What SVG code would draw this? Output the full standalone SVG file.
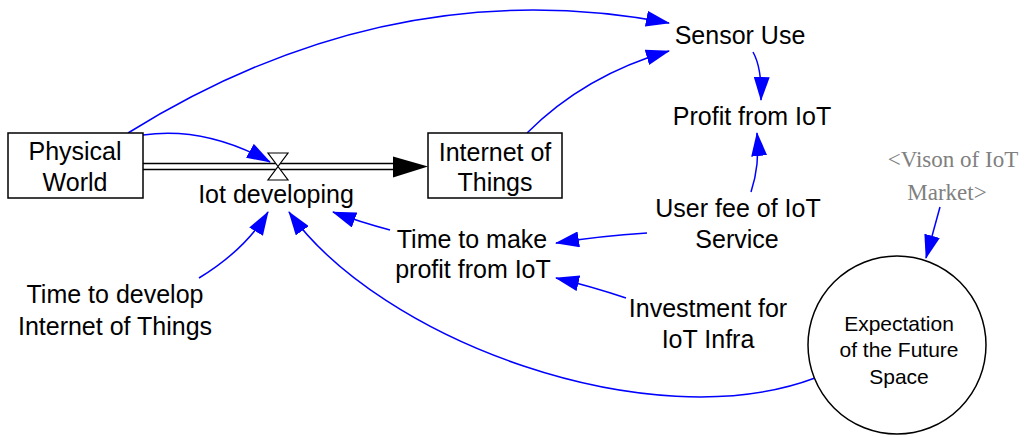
<svg xmlns="http://www.w3.org/2000/svg" width="1026" height="437" viewBox="0 0 1026 437">
<style>
text{font-family:"Liberation Sans",Arial,sans-serif;font-size:25px;fill:#000;text-anchor:middle}
.small{font-size:21px}
.ghost{font-family:"Liberation Serif","Times New Roman",serif;font-size:23px;fill:#808080}
.box{fill:#fff;stroke:#000;stroke-width:1.5}
.link{fill:none;stroke:#0000ff;stroke-width:1.5;marker-end:url(#ah)}
.pipe{fill:none;stroke:#000;stroke-width:1.5}
</style>
<defs>
<marker id="ah" markerUnits="userSpaceOnUse" markerWidth="24" markerHeight="16" viewBox="0 0 24 16" refX="23" refY="8" orient="auto">
<path d="M0,0 L24,8 L0,16 z" fill="#0000ff"/>
</marker>
</defs>
<g id="connectors">
<path class="link" d="M128,133 Q390,-30 669,23"/>
<path class="link" d="M527,133 Q585,75 669,51"/>
<path class="link" d="M753,52 Q762,68 761,100"/>
<path class="link" d="M751,192 Q760,165 757,133"/>
<path class="link" d="M647,233 Q600,236 556,243"/>
<path class="link" d="M626,298 Q590,286 556,278"/>
<path class="link" d="M390,230 Q360,222 333,212"/>
<path class="link" d="M199,278 Q245,250 268,212"/>
<path class="link" d="M815,378 C650,440 380,340 289,212"/>
<path class="link" d="M940,207 L926,258"/>
<path class="link" d="M143,135 Q205,126 270,162"/>
</g>
<g id="flow-iot-developing">
<line class="pipe" x1="143" y1="163.5" x2="395" y2="163.5"/>
<line class="pipe" x1="143" y1="169.5" x2="395" y2="169.5"/>
<path d="M393,156.5 L428,166.5 L393,177.5 z" fill="#000"/>
<path d="M268,153 L288,153 L278,166.5 L288,180 L268,180 L278,166.5 z" fill="#fff" stroke="#000" stroke-width="1.2"/>
<text x="276" y="203">Iot developing</text>
</g>
<g id="physical-world">
<rect class="box" x="8" y="133" width="135" height="65"/>
<text x="75" y="160">Physical</text>
<text x="75" y="191">World</text>
</g>
<g id="internet-of-things">
<rect class="box" x="428" y="133" width="134" height="65"/>
<text x="495" y="161">Internet of</text>
<text x="495" y="191">Things</text>
</g>
<g id="sensor-use"><text x="740" y="44">Sensor Use</text></g>
<g id="profit-from-iot"><text x="752" y="125">Profit from IoT</text></g>
<g id="vison-of-iot-market">
<text class="ghost" x="953" y="167">&lt;Vison of IoT</text>
<text class="ghost" x="947" y="200">Market&gt;</text>
</g>
<g id="user-fee">
<text x="738" y="217">User fee of IoT</text>
<text x="737" y="248">Service</text>
</g>
<g id="time-to-make-profit">
<text x="472" y="248">Time to make</text>
<text x="473" y="278">profit from IoT</text>
</g>
<g id="time-to-develop">
<text x="115" y="303">Time to develop</text>
<text x="115" y="335">Internet of Things</text>
</g>
<g id="investment">
<text x="708" y="317">Investment for</text>
<text x="708" y="348">IoT Infra</text>
</g>
<g id="expectation">
<circle class="box" cx="897" cy="345" r="89"/>
<text class="small" x="899" y="331">Expectation</text>
<text class="small" x="899" y="357">of the Future</text>
<text class="small" x="899" y="384">Space</text>
</g>
</svg>
